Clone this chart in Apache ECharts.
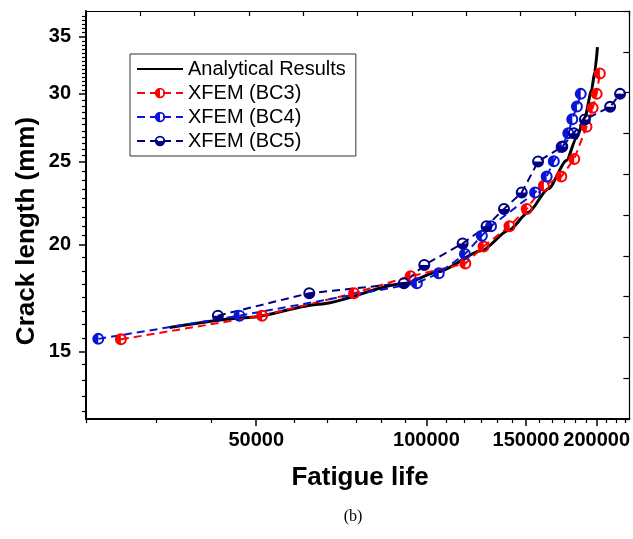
<!DOCTYPE html>
<html><head><meta charset="utf-8">
<script src="https://cdn.jsdelivr.net/npm/echarts@6/dist/echarts.min.js"></script>
<style>html,body{margin:0;padding:0;background:#fff}#c{width:633px;height:539px}</style>
</head><body><div id="c"></div>
<script>
// ---- data ----
const seriesNames = ['Analytical Results', 'XFEM (BC3)', 'XFEM (BC4)', 'XFEM (BC5)'];

const analyticalLife  = [35150, 48640, 64600, 91230, 105160, 125330, 139680, 151490, 164300, 176950, 184060, 190680, 195860, 198420, 200680];
const analyticalCrack = [15.99, 16.43, 17.03, 18.00, 18.59, 19.68, 20.76, 21.81, 23.23, 25.07, 26.60, 28.17, 30.27, 31.79, 34.02];

const bc3Life  = [28820, 51210, 74470, 93750, 117170, 126200, 140240, 150450, 161330, 173200, 182580, 191920, 196810, 200030, 202650];
const bc3Crack = [15.49, 16.51, 17.54, 18.36, 19.00, 19.89, 21.01, 22.01, 23.43, 24.01, 25.18, 27.45, 28.89, 30.00, 31.70];

const bc4Life  = [26280, 46700, 96180, 105160, 116980, 125330, 130100, 155670, 163170, 168000, 173410, 178180, 181100, 184590, 187460];
const bc4Crack = [15.51, 16.51, 18.02, 18.51, 19.49, 20.48, 21.01, 23.00, 24.01, 25.03, 26.00, 26.99, 28.02, 28.99, 30.00];

const bc5Life  = [42770, 62060, 91230, 99140, 115890, 127750, 137150, 147430, 157570, 173900, 182210, 190680, 211290, 220030];
const bc5Crack = [16.51, 17.54, 18.02, 18.92, 20.05, 21.01, 22.01, 23.00, 25.00, 26.03, 26.99, 28.00, 28.97, 30.00];

// ---- ticks ----
const xLabelValues = [50000, 100000, 150000, 200000];
const xMinorTicks = [25000, 33333, 41667, 58333, 66667, 75000, 83333, 91667, 108333, 116667, 125000, 133333, 141667, 158333, 166667, 175000, 183333, 191667, 208333, 216667, 225000];
const yLabelValues = [15, 20, 25, 30, 35];
const yMinorTicks = [12.78, 13.30, 13.86, 14.47,
  15.55, 16.12, 16.71, 17.33, 17.97, 18.63, 19.31,
  20.50, 21.01, 21.54, 22.08, 22.64, 23.21, 23.79, 24.39,
  25.42, 25.84, 26.27, 26.71, 27.16, 27.61, 28.07, 28.54, 29.02, 29.50,
  30.33, 30.67, 31.01, 31.35, 31.70, 32.05, 32.40, 32.76, 33.12, 33.49, 33.86, 34.23, 34.61,
  35.40, 35.80, 36.20, 36.60, 37.00];

const xMin = 25000, xMax = 228500, yMin = 12.5, yMax = 37.5;

function pairs(xs, ys) { return xs.map((x, i) => [x, ys[i]]); }

// half-filled circle symbols (thick ring + filled half)
const symLeftHalf = 'path://M10,0A10,10,0,1,1,10,20A10,10,0,1,1,10,0ZM10,3.4A6.6,6.6,0,1,0,10,16.6A6.6,6.6,0,1,0,10,3.4ZM10,16.6A6.6,6.6,0,0,1,10,3.4Z';
const symBottomHalf = 'path://M10,0A10,10,0,1,1,10,20A10,10,0,1,1,10,0ZM10,3.4A6.6,6.6,0,1,0,10,16.6A6.6,6.6,0,1,0,10,3.4ZM16.6,10A6.6,6.6,0,0,1,3.4,10Z';

const FONT = 'Liberation Sans, Arial, sans-serif';
const black = '#000';
const plain = v => String(Math.round(v));

const chart = echarts.init(document.getElementById('c'), null, {renderer: 'canvas'});
chart.setOption({
  animation: false,
  backgroundColor: '#fff',
  grid: {left: 86, right: 1.5, top: 11, bottom: 120, containLabel: false},
  xAxis: [
    {type: 'log', min: xMin, max: xMax, position: 'bottom',
     axisLine: {show: true, lineStyle: {color: black, width: 2}},
     axisTick: {show: true, customValues: xLabelValues, length: 7, lineStyle: {color: black, width: 1.5}},
     axisLabel: {show: true, customValues: xLabelValues, formatter: plain, hideOverlap: false, showMinLabel: true, showMaxLabel: true,
                 fontSize: 20, fontWeight: 'bold', fontFamily: FONT, color: black, margin: 11},
     splitLine: {show: false}, minorTick: {show: false}},
    {type: 'log', min: xMin, max: xMax, position: 'bottom',
     axisLine: {show: false},
     axisTick: {show: true, customValues: xMinorTicks, length: 4, lineStyle: {color: black, width: 1.2}},
     axisLabel: {show: false}, splitLine: {show: false}},
    {type: 'value', min: 0, max: 10, interval: 1, position: 'top',
     axisLine: {show: true, lineStyle: {color: black, width: 1.2}},
     axisTick: {show: true, inside: true, length: 5, lineStyle: {color: black, width: 1.2}},
     axisLabel: {show: false}, splitLine: {show: false}}
  ],
  yAxis: [
    {type: 'log', min: yMin, max: yMax, position: 'left',
     axisLine: {show: true, lineStyle: {color: black, width: 2}},
     axisTick: {show: true, customValues: yLabelValues, length: 7, lineStyle: {color: black, width: 1.5}},
     axisLabel: {show: true, customValues: yLabelValues, formatter: plain, fontSize: 20, fontWeight: 'bold', fontFamily: FONT, color: black, margin: 15},
     splitLine: {show: false}, minorTick: {show: false}},
    {type: 'log', min: yMin, max: yMax, position: 'left',
     axisLine: {show: false},
     axisTick: {show: true, customValues: yMinorTicks, length: 4, lineStyle: {color: black, width: 1.2}},
     axisLabel: {show: false}, splitLine: {show: false}},
    {type: 'value', min: 0, max: 10, interval: 1, position: 'right',
     axisLine: {show: true, lineStyle: {color: black, width: 1.2}},
     axisTick: {show: true, inside: true, length: 6, lineStyle: {color: black, width: 1.2}},
     axisLabel: {show: false}, splitLine: {show: false}}
  ],
  legend: {
    orient: 'vertical', left: 130, top: 54,
    data: [
      {name: seriesNames[0], itemStyle: {color: 'rgba(0,0,0,0)', opacity: 0}},
      {name: seriesNames[1]}, {name: seriesNames[2]}, {name: seriesNames[3]}
    ],
    itemWidth: 46, itemHeight: 13, itemGap: 4, padding: [5, 10, 5, 6],
    borderColor: '#333', borderWidth: 1, backgroundColor: '#fff', borderRadius: 0,
    textStyle: {fontSize: 20, fontFamily: FONT, color: black}
  },
  series: [
    {name: seriesNames[0], type: 'line', xAxisIndex: 0, yAxisIndex: 0,
     data: pairs(analyticalLife, analyticalCrack), symbol: 'none', smooth: 0.25, smoothMonotone: 'x',
     lineStyle: {color: black, width: 3}, itemStyle: {color: black}, z: 3},
    {name: seriesNames[1], type: 'line', xAxisIndex: 0, yAxisIndex: 0,
     data: pairs(bc3Life, bc3Crack), symbol: symLeftHalf, symbolSize: 12,
     lineStyle: {color: '#ff0000', width: 2, type: [8, 5]}, itemStyle: {color: '#ff0000'}, z: 4},
    {name: seriesNames[2], type: 'line', xAxisIndex: 0, yAxisIndex: 0,
     data: pairs(bc4Life, bc4Crack), symbol: symLeftHalf, symbolSize: 12,
     lineStyle: {color: '#0a14d8', width: 2, type: [8, 5]}, itemStyle: {color: '#0a14d8'}, z: 4},
    {name: seriesNames[3], type: 'line', xAxisIndex: 0, yAxisIndex: 0,
     data: pairs(bc5Life, bc5Crack), symbol: symBottomHalf, symbolSize: 12,
     lineStyle: {color: '#000080', width: 2, type: [8, 5]}, itemStyle: {color: '#000080'}, z: 4}
  ],
  graphic: [
    {type: 'text', x: 27, y: 231, rotation: Math.PI / 2,
     style: {text: 'Crack length (mm)', fontSize: 26, fontWeight: 'bold', fontFamily: FONT, fill: black,
             align: 'center', verticalAlign: 'middle', textAlign: 'center', textVerticalAlign: 'middle'}},
    {type: 'text', x: 360, y: 478,
     style: {text: 'Fatigue life', fontSize: 26, fontWeight: 'bold', fontFamily: FONT, fill: black,
             align: 'center', verticalAlign: 'middle', textAlign: 'center', textVerticalAlign: 'middle'}},
    {type: 'text', x: 353, y: 517,
     style: {text: '(b)', fontSize: 16, fontFamily: 'Liberation Serif, Times New Roman, serif', fill: black,
             align: 'center', verticalAlign: 'middle', textAlign: 'center', textVerticalAlign: 'middle'}}
  ]
});
</script>
</body></html>
